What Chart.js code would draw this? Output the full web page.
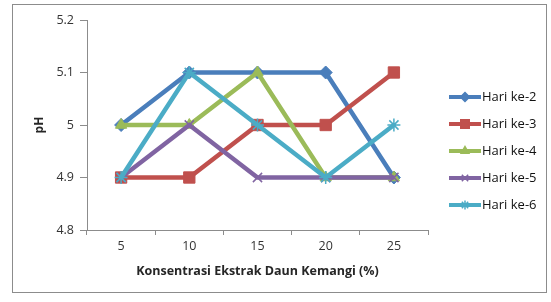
<!DOCTYPE html>
<html>
<head>
<meta charset="utf-8">
<script src="https://cdn.jsdelivr.net/npm/chart.js@4"></script>
<style>
  body { margin: 0; background: #fff; }
  #wrap { position: absolute; left: 0; top: 0; width: 551px; height: 302px; }
</style>
</head>
<body>
<div id="wrap"><canvas id="phChart" width="551" height="302"></canvas></div>
<script>
const categories = ["5", "10", "15", "20", "25"];
const seriesNames = ["Hari ke-2", "Hari ke-3", "Hari ke-4", "Hari ke-5", "Hari ke-6"];
const hari2 = [5.0, 5.1, 5.1, 5.1, 4.9];
const hari3 = [4.9, 4.9, 5.0, 5.0, 5.1];
const hari4 = [5.0, 5.0, 5.1, 4.9, 4.9];
const hari5 = [4.9, 5.0, 4.9, 4.9, 4.9];
const hari6 = [4.9, 5.1, 5.0, 4.9, 5.0];
const yTicks = [4.8, 4.9, 5.0, 5.1, 5.2];

const colors = ["#4A7EBB", "#C0504D", "#9BBB59", "#8064A2", "#4BACC6"];
const markers = ["rectRot", "rect", "triangle", "crossRot", "star"];
const values = [hari2, hari3, hari4, hari5, hari6];

const FONT = "'Open Sans', 'Liberation Sans', sans-serif";

const datasets = values.map((v, i) => ({
  label: seriesNames[i],
  data: v,
  borderColor: colors[i],
  backgroundColor: colors[i],
  borderWidth: 4.5,
  pointStyle: markers[i],
  pointRadius: markers[i] === "rect" ? 8 : 6.5,
  pointBorderWidth: markers[i] === "crossRot" || markers[i] === "star" ? 1.5 : 1,
  pointBorderColor: colors[i],
  tension: 0,
  order: 5 - i
}));

// frame + legend drawn from the datasets
const framePlugin = {
  id: "frame",
  beforeDraw(chart) {
    const c = chart.ctx;
    c.save();
    c.fillStyle = "#fff";
    c.fillRect(0, 0, chart.width, chart.height);
    c.strokeStyle = "#8c8c8c";
    c.lineWidth = 1;
    c.strokeRect(12.5, 4.5, 534, 288);
    c.restore();
  },
  afterDraw(chart) {
    const c = chart.ctx;
    c.save();
    c.font = "13px " + FONT;
    c.textBaseline = "middle";
    chart.data.datasets.forEach((ds, i) => {
      const y = 97 + i * 27;
      c.strokeStyle = ds.borderColor;
      c.lineWidth = 4;
      c.beginPath();
      c.moveTo(449, y);
      c.lineTo(481, y);
      c.stroke();
      c.fillStyle = ds.backgroundColor;
      c.lineWidth = 1.5;
      Chart.helpers.drawPoint(c, { pointStyle: ds.pointStyle, radius: ds.pointStyle === "rect" ? 6 : 4.5, rotation: 0, borderWidth: 1.5 }, 465, y);
      c.fillStyle = "#111";
      c.fillText(ds.label, 482, y);
    });
    c.restore();
  }
};

new Chart(document.getElementById("phChart"), {
  type: "line",
  data: { labels: categories, datasets: datasets },
  options: {
    responsive: false,
    animation: false,
    layout: { padding: { left: 0, right: 123, top: 20, bottom: 20 } },
    plugins: { legend: { display: false }, tooltip: { enabled: false } },
    scales: {
      x: {
        offset: true,
        afterFit(s) { s.height = 52; },
        grid: { display: true, offset: true, drawOnChartArea: false, drawTicks: true, tickLength: 5, color: "#8c8c8c" },
        border: { color: "#8c8c8c", width: 1 },
        ticks: { color: "#333", font: { family: FONT, size: 12.5 }, padding: 4, maxRotation: 0 },
        title: { display: true, text: "Konsentrasi Ekstrak Daun Kemangi (%)", color: "#262626", font: { family: FONT, size: 12.5, weight: "bold" }, padding: { top: 2, bottom: 3 } }
      },
      y: {
        min: 4.8,
        max: 5.2,
        afterFit(s) { s.width = 87; },
        afterBuildTicks(s) { s.ticks = yTicks.map(v => ({ value: v })); },
        grid: { display: true, drawOnChartArea: false, drawTicks: true, tickLength: 7, color: "#8c8c8c" },
        border: { color: "#8c8c8c", width: 1 },
        ticks: {
          color: "#333",
          font: { family: FONT, size: 12.5 },
          padding: 6,
          callback: v => String(Math.round(v * 10) / 10)
        },
        title: { display: true, text: "pH", color: "#262626", font: { family: FONT, size: 12, weight: "bold" }, padding: { top: 32, bottom: 0 } }
      }
    }
  },
  plugins: [framePlugin]
});
</script>
</body>
</html>
